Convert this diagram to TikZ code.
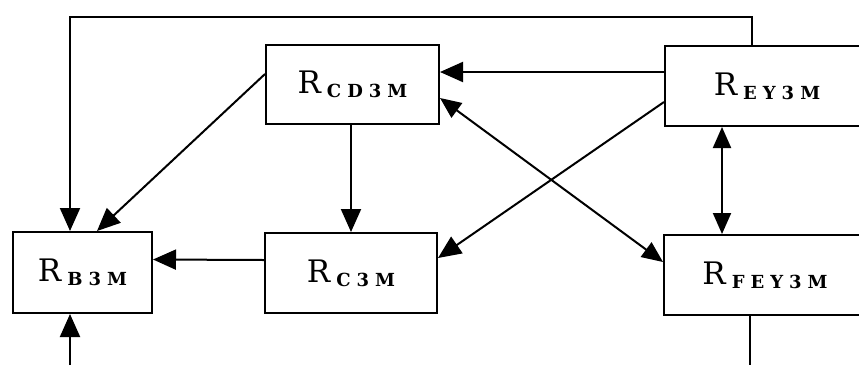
\documentclass[tikz,border=0pt]{standalone}
\usepackage{fontspec}
\setmainfont{DejaVu Serif}
\usetikzlibrary{arrows.meta}
\newcommand\sk{\kern6pt}
\newcommand\Rsub[1]{{\fontsize{31}{34}\selectfont R}\kern6pt\raisebox{-4pt}{\fontsize{18}{18}\selectfont\bfseries #1}}
\tikzset{
  blk/.style={draw, line width=2pt, inner sep=0pt, minimum height=80pt},
  arr/.style={line width=2pt, -{Triangle[length=23pt,width=20pt]}},
  darr/.style={line width=2pt, {Triangle[length=21pt,width=18pt]}-{Triangle[length=21pt,width=18pt]}},
  ln/.style={line width=2pt}
}
\begin{document}
\begin{tikzpicture}[x=1pt,y=-1pt]
\useasboundingbox (0,0) rectangle (859,365);
\clip (0,0) rectangle (859,365);
\node[blk, minimum width=173pt, minimum height=79pt] (CD) at (352.5,84.5) {\Rsub{C\sk D\sk 3\sk M}};
\node[blk, minimum width=204pt] (EY) at (767,86) {\Rsub{E\sk Y\sk 3\sk M}};
\node[blk, minimum width=139pt, minimum height=81pt] (B) at (82.5,272.5) {\Rsub{B\sk 3\sk M}};
\node[blk, minimum width=172pt] (C) at (351,273) {\Rsub{C\sk 3\sk M}};
\node[blk, minimum width=202pt] (FEY) at (765,275) {\Rsub{F\sk E\sk Y\sk 3\sk M}};
\coordinate (t1) at (752,17);
\coordinate (t2) at (70,17);
\coordinate (bot) at (70,365);
\coordinate (v) at (722,0);
\coordinate (b2) at (750,365);
\draw[arr] (t1 |- EY.north) -- (t1) -- (t2) -- (t2 |- B.north);
\draw[arr] ([yshift=10.5pt]CD.west) -- ([xshift=14.5pt]B.north);
\draw[arr] (C.north |- CD.south) -- (C.north);
\draw[arr] ([yshift=13pt]C.west) -- ([yshift=13pt]B.east);
\draw[arr] (bot) -- (bot |- B.south);
\draw[arr] ([yshift=14pt]EY.west) -- ([yshift=12.5pt]CD.east);
\draw[darr] ([yshift=-13.5pt]CD.east) -- ([yshift=13pt]FEY.west);
\draw[arr] ([yshift=-16pt]EY.west) -- ([yshift=15pt]C.east);
\draw[darr] (v |- EY.south) -- (v |- FEY.north);
\draw[ln] (b2 |- FEY.south) -- (b2);
\end{tikzpicture}
\end{document}
